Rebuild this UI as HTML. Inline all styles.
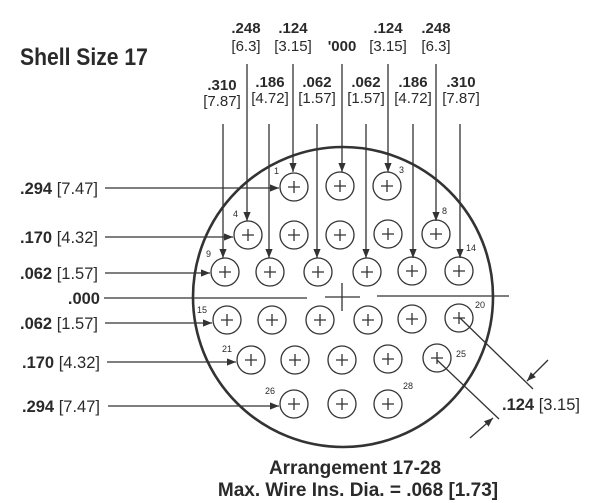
<!DOCTYPE html>
<html><head><meta charset="utf-8"><style>
html,body{margin:0;padding:0;background:#fff;}
svg{display:block;}
text{font-family:"Liberation Sans",sans-serif;fill:#2a2a2a;}
.b{font-weight:bold;}
</style></head><body>
<svg width="608" height="503" viewBox="0 0 608 503" xmlns="http://www.w3.org/2000/svg">
<defs>
<marker id="a" viewBox="0 0 10 10" refX="10" refY="5" markerWidth="9" markerHeight="9" orient="auto" markerUnits="userSpaceOnUse"><path d="M0,1 L10,5 L0,9 z" fill="#333"/></marker>
</defs>
<text x="20" y="65" class="b" font-size="24" transform="translate(20,0) scale(0.88,1) translate(-20,0)">Shell Size 17</text>

<g font-size="15" text-anchor="middle">
<text x="246" y="33" class="b">.248</text><text x="246" y="51">[6.3]</text>
<text x="293" y="33" class="b">.124</text><text x="293" y="51">[3.15]</text>
<text x="342" y="51" class="b">'000</text>
<text x="388" y="33" class="b">.124</text><text x="388" y="51">[3.15]</text>
<text x="436" y="33" class="b">.248</text><text x="436" y="51">[6.3]</text>
<text x="222" y="90" class="b">.310</text><text x="222" y="106">[7.87]</text>
<text x="270" y="87" class="b">.186</text><text x="270" y="103">[4.72]</text>
<text x="317" y="87" class="b">.062</text><text x="317" y="103">[1.57]</text>
<text x="366" y="87" class="b">.062</text><text x="366" y="103">[1.57]</text>
<text x="413" y="87" class="b">.186</text><text x="413" y="103">[4.72]</text>
<text x="461" y="87" class="b">.310</text><text x="461" y="103">[7.87]</text>
</g>

<g stroke="#333" stroke-width="1.3" fill="none" marker-end="url(#a)">
<line x1="223" y1="124" x2="223" y2="258"/>
<line x1="247" y1="64" x2="247" y2="221"/>
<line x1="269" y1="124" x2="269" y2="258"/>
<line x1="293" y1="64" x2="293" y2="172"/>
<line x1="317" y1="124" x2="317" y2="258"/>
<line x1="342" y1="64" x2="342" y2="172"/>
<line x1="366" y1="124" x2="366" y2="258"/>
<line x1="388" y1="64" x2="388" y2="172"/>
<line x1="413" y1="124" x2="413" y2="258"/>
<line x1="436" y1="64" x2="436" y2="221"/>
<line x1="460" y1="124" x2="460" y2="258"/>
<line x1="105" y1="188" x2="279" y2="188"/>
<line x1="105" y1="237" x2="233" y2="237"/>
<line x1="105" y1="273" x2="210" y2="273"/>
<line x1="105" y1="323" x2="212" y2="323"/>
<line x1="107" y1="362" x2="236" y2="362"/>
<line x1="108" y1="406" x2="279" y2="406"/>
<line x1="548" y1="360" x2="527" y2="381"/>
<line x1="470" y1="438" x2="493" y2="418"/>
</g>
<g stroke="#333" stroke-width="1.3">
<line x1="104" y1="298" x2="307" y2="298"/>
<line x1="325" y1="297" x2="360" y2="297"/>
<line x1="342" y1="283" x2="342" y2="311"/>
<line x1="377" y1="296" x2="509" y2="296"/>
<line x1="460" y1="318" x2="533" y2="389"/>
<line x1="437" y1="360" x2="499" y2="419"/>
</g>
<circle cx="343" cy="297" r="150" fill="none" stroke="#333" stroke-width="2.6"/>

<g font-size="16.5">
<text x="20" y="194"><tspan class="b">.294</tspan> [7.47]</text>
<text x="20" y="243"><tspan class="b">.170</tspan> [4.32]</text>
<text x="20" y="279"><tspan class="b">.062</tspan> [1.57]</text>
<text x="100" y="304" text-anchor="end" class="b">.000</text>
<text x="20" y="329"><tspan class="b">.062</tspan> [1.57]</text>
<text x="22" y="368"><tspan class="b">.170</tspan> [4.32]</text>
<text x="22" y="412"><tspan class="b">.294</tspan> [7.47]</text>
<text x="502" y="410"><tspan class="b">.124</tspan> [3.15]</text>
</g>

<g font-size="9">
<text x="274" y="174">1</text><text x="399" y="173">3</text>
<text x="233" y="217">4</text><text x="442" y="214">8</text>
<text x="206" y="257">9</text><text x="466" y="251">14</text>
<text x="197" y="313">15</text><text x="475" y="308">20</text>
<text x="222" y="352">21</text><text x="456" y="357">25</text>
<text x="265" y="394">26</text><text x="403" y="389">28</text>
</g>

<g stroke="#333" stroke-width="1.3" fill="none">
<g>
<circle cx="294" cy="187" r="14"/><circle cx="340" cy="186" r="14"/><circle cx="387" cy="186" r="14"/>
<circle cx="248" cy="235" r="14"/><circle cx="294" cy="235" r="14"/><circle cx="340" cy="235" r="14"/><circle cx="388" cy="234" r="14"/><circle cx="436" cy="234" r="14"/>
<circle cx="225" cy="272" r="14"/><circle cx="270" cy="272" r="14"/><circle cx="318" cy="272" r="14"/><circle cx="367" cy="272" r="14"/><circle cx="412" cy="271" r="14"/><circle cx="459" cy="271" r="14"/>
<circle cx="227" cy="320" r="14"/><circle cx="272" cy="320" r="14"/><circle cx="320" cy="320" r="14"/><circle cx="368" cy="320" r="14"/><circle cx="412" cy="319" r="14"/><circle cx="459" cy="318" r="14"/>
<circle cx="251" cy="360" r="14"/><circle cx="295" cy="360" r="14"/><circle cx="342" cy="360" r="14"/><circle cx="388" cy="359" r="14"/><circle cx="437" cy="358" r="14"/>
<circle cx="294" cy="404" r="14"/><circle cx="342" cy="404" r="14"/><circle cx="388" cy="404" r="14"/>
</g>
<path d="M288,187h12M294,181v12 M334,186h12M340,180v12 M381,186h12M387,180v12
M242,235h12M248,229v12 M288,235h12M294,229v12 M334,235h12M340,229v12 M382,234h12M388,228v12 M430,234h12M436,228v12
M219,272h12M225,266v12 M264,272h12M270,266v12 M312,272h12M318,266v12 M361,272h12M367,266v12 M406,271h12M412,265v12 M453,271h12M459,265v12
M221,320h12M227,314v12 M266,320h12M272,314v12 M314,320h12M320,314v12 M362,320h12M368,314v12 M406,319h12M412,313v12 M453,318h12M459,312v12
M245,360h12M251,354v12 M289,360h12M295,354v12 M336,360h12M342,354v12 M382,359h12M388,353v12 M431,358h12M437,352v12
M288,404h12M294,398v12 M336,404h12M342,398v12 M382,404h12M388,398v12"/>
</g>

<text x="355" y="474" text-anchor="middle" class="b" font-size="19">Arrangement 17-28</text>
<text x="358" y="496" text-anchor="middle" class="b" font-size="19">Max. Wire Ins. Dia. = .068 [1.73]</text>
</svg>
</body></html>
